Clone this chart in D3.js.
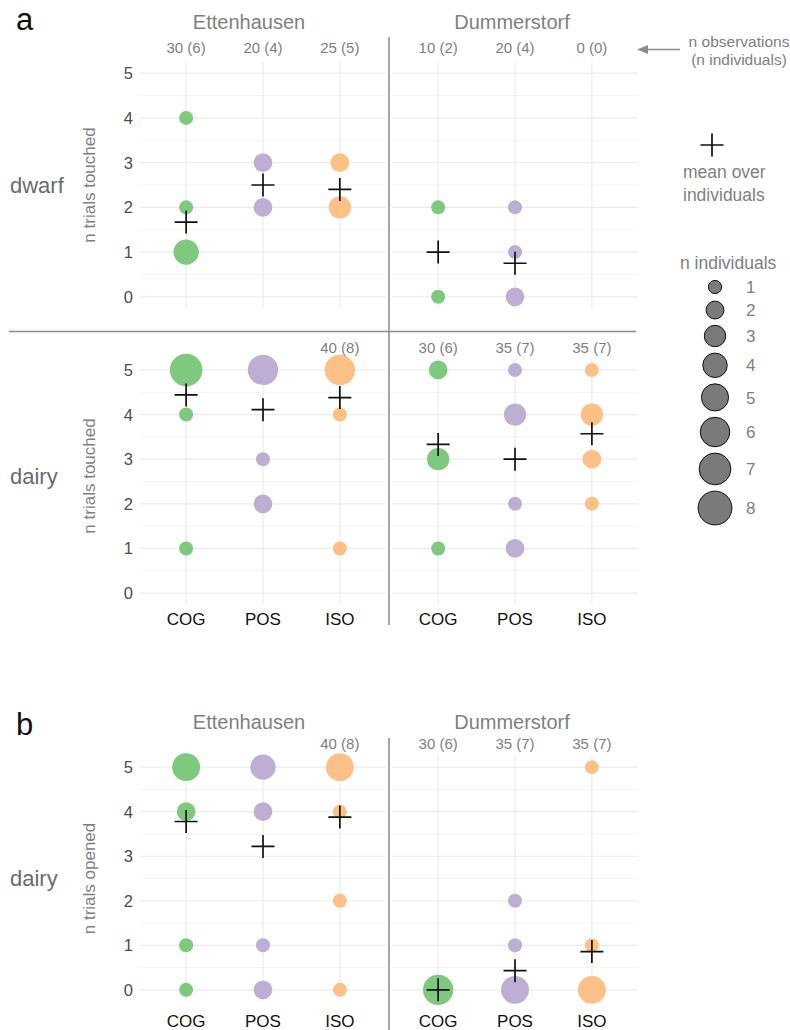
<!DOCTYPE html>
<html><head><meta charset="utf-8">
<script src="https://cdn.jsdelivr.net/npm/d3@7"></script>
<style>
body{margin:0;background:#fff;}
svg{font-family:"Liberation Sans",Arial,Helvetica,sans-serif;display:block;}
</style></head>
<body>
<svg id="chart" width="790" height="1030"></svg>
<script>
// ---------- data ----------
const sites = ["Ettenhausen", "Dummerstorf"];
const conditions = ["COG", "POS", "ISO"];
const yTicks = [0, 1, 2, 3, 4, 5];
const yMinorTicks = [0.5, 1.5, 2.5, 3.5, 4.5];
const legendSizes = [1, 2, 3, 4, 5, 6, 7, 8];
const conditionColors = ["#7fc97f", "#beaed4", "#fdc086"];

// [site, condition, n trials, n individuals]
const dwarfTouched = [
  ["Ettenhausen","COG",4,1],["Ettenhausen","COG",2,1],["Ettenhausen","COG",1,4],
  ["Ettenhausen","POS",3,2],["Ettenhausen","POS",2,2],
  ["Ettenhausen","ISO",3,2],["Ettenhausen","ISO",2,3],
  ["Dummerstorf","COG",2,1],["Dummerstorf","COG",0,1],
  ["Dummerstorf","POS",2,1],["Dummerstorf","POS",1,1],["Dummerstorf","POS",0,2]
];
const dairyTouched = [
  ["Ettenhausen","COG",5,7],["Ettenhausen","COG",4,1],["Ettenhausen","COG",1,1],
  ["Ettenhausen","POS",5,6],["Ettenhausen","POS",3,1],["Ettenhausen","POS",2,2],
  ["Ettenhausen","ISO",5,6],["Ettenhausen","ISO",4,1],["Ettenhausen","ISO",1,1],
  ["Dummerstorf","COG",5,2],["Dummerstorf","COG",3,3],["Dummerstorf","COG",1,1],
  ["Dummerstorf","POS",5,1],["Dummerstorf","POS",4,3],["Dummerstorf","POS",2,1],["Dummerstorf","POS",1,2],
  ["Dummerstorf","ISO",5,1],["Dummerstorf","ISO",4,3],["Dummerstorf","ISO",3,2],["Dummerstorf","ISO",2,1]
];
const dairyOpened = [
  ["Ettenhausen","COG",5,5],["Ettenhausen","COG",4,2],["Ettenhausen","COG",1,1],["Ettenhausen","COG",0,1],
  ["Ettenhausen","POS",5,4],["Ettenhausen","POS",4,2],["Ettenhausen","POS",1,1],["Ettenhausen","POS",0,2],
  ["Ettenhausen","ISO",5,5],["Ettenhausen","ISO",4,1],["Ettenhausen","ISO",2,1],["Ettenhausen","ISO",0,1],
  ["Dummerstorf","COG",0,6],
  ["Dummerstorf","POS",2,1],["Dummerstorf","POS",1,1],["Dummerstorf","POS",0,5],
  ["Dummerstorf","ISO",5,1],["Dummerstorf","ISO",1,1],["Dummerstorf","ISO",0,5]
];

// [site, condition, mean over individuals]
const dwarfTouchedMean = [
  ["Ettenhausen","COG",1.67],["Ettenhausen","POS",2.5],["Ettenhausen","ISO",2.4],
  ["Dummerstorf","COG",1.0],["Dummerstorf","POS",0.75]
];
const dairyTouchedMean = [
  ["Ettenhausen","COG",4.44],["Ettenhausen","POS",4.11],["Ettenhausen","ISO",4.38],
  ["Dummerstorf","COG",3.33],["Dummerstorf","POS",3.0],["Dummerstorf","ISO",3.57]
];
const dairyOpenedMean = [
  ["Ettenhausen","COG",3.78],["Ettenhausen","POS",3.22],["Ettenhausen","ISO",3.88],
  ["Dummerstorf","COG",0.0],["Dummerstorf","POS",0.43],["Dummerstorf","ISO",0.86]
];

// [site, condition, label]
const dwarfTouchedN = [
  ["Ettenhausen","COG","30 (6)"],["Ettenhausen","POS","20 (4)"],["Ettenhausen","ISO","25 (5)"],
  ["Dummerstorf","COG","10 (2)"],["Dummerstorf","POS","20 (4)"],["Dummerstorf","ISO","0 (0)"]
];
const dairyTouchedN = [
  ["Ettenhausen","ISO","40 (8)"],
  ["Dummerstorf","COG","30 (6)"],["Dummerstorf","POS","35 (7)"],["Dummerstorf","ISO","35 (7)"]
];
const dairyOpenedN = [
  ["Ettenhausen","ISO","40 (8)"],
  ["Dummerstorf","COG","30 (6)"],["Dummerstorf","POS","35 (7)"],["Dummerstorf","ISO","35 (7)"]
];

// ---------- scales ----------
const svg = d3.select("#chart");
const siteScale = d3.scaleBand().domain(sites).range([140, 638]).paddingInner(0.024);
const condScale = d3.scalePoint().domain(conditions).range([0, siteScale.bandwidth()]).padding(0.6);
const xPos = (s, c) => siteScale(s) + condScale(c);
const color = d3.scaleOrdinal().domain(conditions).range(conditionColors);
const rScale = d3.scaleSqrt().domain([1, 8]).range([7, 17.3]);
const titleX = d3.scaleOrdinal().domain(sites).range([249, 512]);

const GRAY_TXT = "#7f7f7f";
const TICK_TXT = "#4d4d4d";

function drawPanel(opts) {
  const y = d3.scaleLinear().domain([-0.25, 5.25]).range([opts.bottom, opts.top]);
  const g = svg.append("g");
  sites.forEach(s => {
    const x0 = siteScale(s), x1 = x0 + siteScale.bandwidth();
    g.selectAll(null).data(yMinorTicks).join("line")
      .attr("x1", x0).attr("x2", x1).attr("y1", d => y(d)).attr("y2", d => y(d))
      .attr("stroke", "#f4f4f4").attr("stroke-width", 1);
    g.selectAll(null).data(yTicks).join("line")
      .attr("x1", x0).attr("x2", x1).attr("y1", d => y(d)).attr("y2", d => y(d))
      .attr("stroke", "#ebebeb").attr("stroke-width", 1.2);
    g.selectAll(null).data(conditions).join("line")
      .attr("x1", c => xPos(s, c)).attr("x2", c => xPos(s, c))
      .attr("y1", y.range()[0]).attr("y2", y.range()[1])
      .attr("stroke", "#ebebeb").attr("stroke-width", 1.2);
  });
  g.selectAll(null).data(yTicks).join("text")
    .attr("x", 133).attr("y", d => y(d)).attr("dy", "0.36em")
    .attr("text-anchor", "end").attr("font-size", 16.5).attr("fill", TICK_TXT)
    .text(d => d);
  g.append("text")
    .attr("transform", `translate(${95},${opts.rowY ?? (opts.top + opts.bottom) / 2}) rotate(-90)`)
    .attr("text-anchor", "middle").attr("font-size", 17).attr("fill", GRAY_TXT)
    .text(opts.yTitle);
  g.append("text").attr("x", 10).attr("y", opts.rowY ?? (opts.top + opts.bottom) / 2).attr("dy", "0.35em")
    .attr("font-size", 22).attr("fill", "#6b6b6b").text(opts.rowLabel);
  g.selectAll(null).data(opts.points).join("circle")
    .attr("cx", d => xPos(d[0], d[1])).attr("cy", d => y(d[2]))
    .attr("r", d => rScale(d[3])).attr("fill", d => color(d[1]));
  const h = 11.5;
  g.selectAll(null).data(opts.means).join("path")
    .attr("d", d => {
      const cx = xPos(d[0], d[1]), cy = y(d[2]);
      return `M${cx - h},${cy}H${cx + h}M${cx},${cy - h}V${cy + h}`;
    })
    .attr("stroke", "#111").attr("stroke-width", 1.7).attr("fill", "none");
  g.selectAll(null).data(opts.nLabels).join("text")
    .attr("x", d => xPos(d[0], d[1])).attr("y", opts.nY)
    .attr("text-anchor", "middle").attr("font-size", 15).attr("fill", GRAY_TXT)
    .text(d => d[2]);
  if (opts.catY) {
    sites.forEach(s => {
      g.selectAll(null).data(conditions).join("text")
        .attr("x", c => xPos(s, c)).attr("y", opts.catY)
        .attr("text-anchor", "middle").attr("font-size", 17).attr("fill", "#111")
        .text(c => c);
    });
  }
  return y;
}

function siteTitles(yBase) {
  svg.selectAll(null).data(sites).join("text")
    .attr("x", s => titleX(s)).attr("y", yBase)
    .attr("text-anchor", "middle").attr("font-size", 20).attr("fill", GRAY_TXT)
    .text(s => s);
}

// ---------- panel a ----------
svg.append("text").attr("x", 16).attr("y", 30).attr("font-size", 31).attr("fill", "#111").text("a");
siteTitles(28.5);
drawPanel({top: 62, bottom: 308, points: dwarfTouched, means: dwarfTouchedMean,
  nLabels: dwarfTouchedN, nY: 53, yTitle: "n trials touched", rowLabel: "dwarf"});
drawPanel({top: 358.8, bottom: 604.2, points: dairyTouched, means: dairyTouchedMean,
  nLabels: dairyTouchedN, nY: 353, yTitle: "n trials touched", rowLabel: "dairy",
  rowY: 476, catY: 625});
svg.append("line").attr("x1", 389).attr("x2", 389).attr("y1", 37).attr("y2", 625)
  .attr("stroke", "#a6a6a6").attr("stroke-width", 2);
svg.append("line").attr("x1", 9).attr("x2", 636).attr("y1", 331.5).attr("y2", 331.5)
  .attr("stroke", "#8c8c8c").attr("stroke-width", 1.5);

// ---------- panel b ----------
svg.append("text").attr("x", 16).attr("y", 735).attr("font-size", 31).attr("fill", "#111").text("b");
siteTitles(728.5);
drawPanel({top: 756, bottom: 1001, points: dairyOpened, means: dairyOpenedMean,
  nLabels: dairyOpenedN, nY: 749, yTitle: "n trials opened", rowLabel: "dairy", catY: 1027});
svg.append("line").attr("x1", 389).attr("x2", 389).attr("y1", 738).attr("y2", 1030)
  .attr("stroke", "#a6a6a6").attr("stroke-width", 2);

// ---------- annotation: n observations ----------
svg.append("line").attr("x1", 680).attr("x2", 646).attr("y1", 49.5).attr("y2", 49.5)
  .attr("stroke", "#8c8c8c").attr("stroke-width", 1.5);
svg.append("path").attr("d", "M637,49.5L648,45L648,54Z").attr("fill", "#8c8c8c");
svg.append("text").attr("x", 739).attr("y", 47).attr("text-anchor", "middle")
  .attr("font-size", 15.5).attr("fill", GRAY_TXT).text("n observations");
svg.append("text").attr("x", 739).attr("y", 65).attr("text-anchor", "middle")
  .attr("font-size", 15.5).attr("fill", GRAY_TXT).text("(n individuals)");

// ---------- legend ----------
const lg = svg.append("g");
const lx = 712, ly = 145, lh = 11.5;
lg.append("path").attr("d", `M${lx - lh},${ly}H${lx + lh}M${lx},${ly - lh}V${ly + lh}`)
  .attr("stroke", "#111").attr("stroke-width", 1.7);
lg.append("text").attr("x", 683).attr("y", 178).attr("font-size", 17.5).attr("fill", GRAY_TXT).text("mean over");
lg.append("text").attr("x", 683).attr("y", 201).attr("font-size", 17.5).attr("fill", GRAY_TXT).text("individuals");
lg.append("text").attr("x", 680).attr("y", 269).attr("font-size", 17.5).attr("fill", GRAY_TXT).text("n individuals");

const keyH = n => Math.max(22, 2 * rScale(n) + 5.5);
let acc = 287;
const legendY = legendSizes.map((n, i) => {
  if (i > 0) acc += (keyH(legendSizes[i - 1]) + keyH(n)) / 2;
  return acc;
});
lg.selectAll(null).data(legendSizes).join("circle")
  .attr("cx", 715).attr("cy", (d, i) => legendY[i]).attr("r", d => rScale(d) - 0.4)
  .attr("fill", "#7a7a7a").attr("stroke", "#111").attr("stroke-width", 1);
lg.selectAll(null).data(legendSizes).join("text")
  .attr("x", 746).attr("y", (d, i) => legendY[i]).attr("dy", "0.36em")
  .attr("font-size", 17).attr("fill", GRAY_TXT).text(d => d);
</script>
</body></html>
